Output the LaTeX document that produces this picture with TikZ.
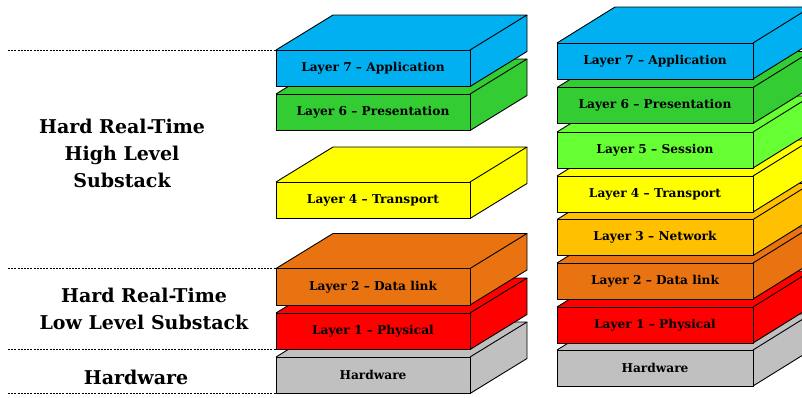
\documentclass[tikz,border=0pt]{standalone}
\usepackage{fontspec}
\setmainfont{DejaVu Serif}
\definecolor{cL7}{HTML}{00B0F0}
\definecolor{cL6}{HTML}{33CC33}
\definecolor{cL5}{HTML}{66FF33}
\definecolor{cL4}{HTML}{FFFF00}
\definecolor{cL3}{HTML}{FFC000}
\definecolor{cL2}{HTML}{E97311}
\definecolor{cL1}{HTML}{FF0000}
\definecolor{cHW}{HTML}{C0C0C0}
\tikzset{
  face/.style={draw=black, line width=0.9pt, line join=round},
  boxtext/.style={font=\bfseries\fontsize{12.2}{14}\selectfont, inner sep=0pt},
  sidelabel/.style={font=\bfseries\fontsize{19}{27}\selectfont, align=center, inner sep=0pt},
  sep/.style={line width=1pt, dash pattern=on 2pt off 1.2pt}
}
% #1 x, #2 y top of front, #3 width, #4 height, #5 dx, #6 dy, #7 colour, #8 name, #9 text
\newcommand{\osibox}[9]{%
  \fill[#7] (#1,#2) -- ++(#5,-#6) -- ++(#3,0) -- ++(0,#4) -- ++(-#5,#6) -- ++(-#3,0) -- cycle;
  \draw[face] (#1,#2) -- ++(#5,-#6) -- ++(#3,0) -- ++(-#5,#6);
  \draw[face] (#1+#3+#5,#2-#6) -- ++(0,#4) -- ++(-#5,#6);
  \draw[face, fill=#7] (#1,#2) rectangle ++(#3,#4);
  \node[boxtext] (#8) at (#1+#3/2,#2+#4/2) {#9};
}
\begin{document}
\begin{tikzpicture}[x=1pt,y=-1pt]
\clip (0,0) rectangle (802,397);
\fill[white] (0,0) rectangle (802,397);
% left stack
\osibox{276}{357}{194}{36.5}{57}{35}{cHW}{lhw}{Hardware}
\osibox{276}{313}{194}{36.5}{57}{35}{cL1}{ll1}{Layer 1 – Physical}
\osibox{276}{268.5}{194}{36.5}{57}{35}{cL2}{ll2}{Layer 2 – Data link}
\osibox{276}{182}{194}{36.5}{57}{35}{cL4}{ll4}{Layer 4 – Transport}
\osibox{276}{94}{194}{36.5}{57}{35}{cL6}{ll6}{Layer 6 – Presentation}
\osibox{276}{50}{194}{36.5}{57}{35}{cL7}{ll7}{Layer 7 – Application}
% right stack
\osibox{557}{350}{196}{36}{58}{36}{cHW}{rhw}{Hardware}
\osibox{557}{307}{196}{36}{58}{36}{cL1}{rl1}{Layer 1 – Physical}
\osibox{557}{263}{196}{36}{58}{36}{cL2}{rl2}{Layer 2 – Data link}
\osibox{557}{219.5}{196}{36}{58}{36}{cL3}{rl3}{Layer 3 – Network}
\osibox{557}{176}{196}{36}{58}{36}{cL4}{rl4}{Layer 4 – Transport}
\osibox{557}{132}{196}{36}{58}{36}{cL5}{rl5}{Layer 5 – Session}
\osibox{557}{87.5}{196}{36}{58}{36}{cL6}{rl6}{Layer 6 – Presentation}
\osibox{557}{43}{196}{36}{58}{36}{cL7}{rl7}{Layer 7 – Application}
% separators
\coordinate (s1) at (8,50);
\coordinate (s2) at (8,268.5);
\coordinate (s3) at (8,349.5);
\coordinate (s4) at (8,393);
\coordinate (e1) at (463,50);
\coordinate (e2) at (470,268.5);
\coordinate (e3) at (470,349.5);
\coordinate (e4) at (470,393);
\draw[sep] (s1) -- (e1);
\draw[sep] (s2) -- (e2);
\draw[sep] (s3) -- (e3);
\draw[sep] (s4) -- (e4);
% labels
\node[sidelabel] (hi) at (122,153) {Hard Real-Time\\High Level\\Substack};
\node[sidelabel] (lo) at (144,309) {Hard Real-Time\\Low Level Substack};
\node[sidelabel] (hw) at (136,377) {Hardware};
\end{tikzpicture}
\end{document}
